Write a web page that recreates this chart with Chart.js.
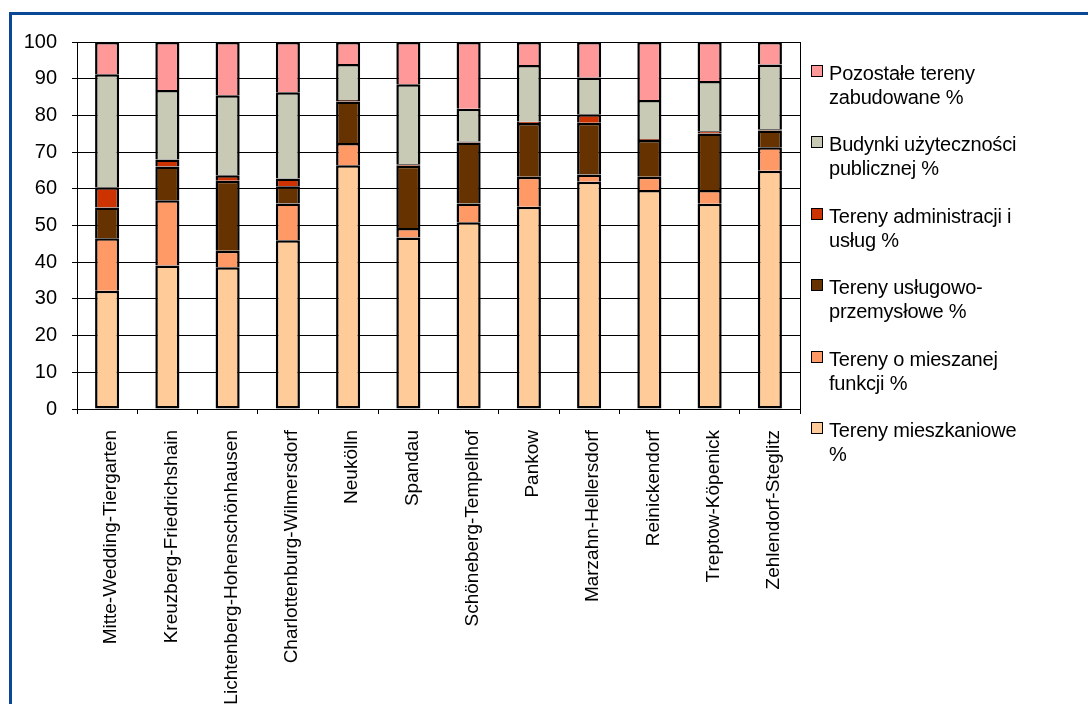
<!DOCTYPE html>
<html>
<head>
<meta charset="utf-8">
<script src="https://cdn.jsdelivr.net/npm/chart.js@4.4.1/dist/chart.umd.min.js"></script>
<style>
  html, body { margin: 0; padding: 0; background: #fff; width: 1088px; height: 704px; overflow: hidden; }
  #frame { position: absolute; left: 9px; top: 12px; width: 1200px; height: 800px;
           border-top: 3px solid #0A4795; border-left: 3px solid #0A4795; box-sizing: border-box; }
  #c { position: absolute; left: 0; top: 0; }
  #legend { position: absolute; left: 811px; top: 61px; font-family: "Liberation Sans", Arial, sans-serif;
            font-size: 20px; line-height: 24px; color: #000; }
  .item { position: relative; height: 71.4px; padding-left: 18px; white-space: pre-line; letter-spacing: -0.2px; }
  .box { position: absolute; left: 0; top: 4px; width: 10px; height: 10px; border: 1.5px solid #000; }
</style>
</head>
<body>
<div id="frame"></div>
<canvas id="c" width="1088" height="704"></canvas>
<div id="legend"></div>
<script>
const categories = [
  "Mitte-Wedding-Tiergarten", "Kreuzberg-Friedrichshain", "Lichtenberg-Hohenschönhausen",
  "Charlottenburg-Wilmersdorf", "Neukölln", "Spandau", "Schöneberg-Tempelhof", "Pankow",
  "Marzahn-Hellersdorf", "Reinickendorf", "Treptow-Köpenick", "Zehlendorf-Steglitz"
];
const seriesNames = [
  "Tereny mieszkaniowe\n%",
  "Tereny o mieszanej\nfunkcji %",
  "Tereny usługowo-\nprzemysłowe %",
  "Tereny administracji i\nusług %",
  "Budynki użyteczności\npublicznej %",
  "Pozostałe tereny\nzabudowane %"
];
const mieszkaniowe   = [32.2, 39.1, 38.6, 46.0, 66.4, 46.7, 50.9, 55.1, 61.9, 59.7, 55.9, 64.9];
const mieszane       = [14.3, 17.8,  4.5, 10.0,  6.1,  2.6,  5.1,  8.2,  2.0,  3.6,  3.8,  6.4];
const przemyslowe    = [ 8.4,  9.2, 19.1,  4.7, 11.3, 17.0, 16.6, 14.6, 14.1, 10.0, 15.4,  4.6];
const administracja  = [ 5.5,  1.9,  1.5,  2.1,  0.4,  0.4,  0.3,  0.4,  2.3,  0.3,  0.6,  0.3];
const publiczne      = [30.8, 18.9, 21.8, 23.5,  9.8, 21.8,  8.9, 15.4, 10.0, 10.6, 13.7, 17.7];
const pozostale      = [ 8.8, 13.1, 14.5, 13.7,  6.0, 11.5, 18.2,  6.3,  9.7, 15.8, 10.6,  6.1];
const yTicks = [0, 10, 20, 30, 40, 50, 60, 70, 80, 90, 100];

const seriesValues = [mieszkaniowe, mieszane, przemyslowe, administracja, publiczne, pozostale];
const colors = ["#FFCC99", "#FF9966", "#663300", "#CC3300", "#C8CAB6", "#FF9999"];

const datasets = seriesValues.map((vals, i) => ({
  label: seriesNames[i],
  data: vals,
  backgroundColor: colors[i],
  borderColor: "#000",
  borderWidth: 2.5,
  borderSkipped: i === 0 ? false : "start",
  barPercentage: 0.4,
  categoryPercentage: 1.0
}));

const font = "'Liberation Sans', Arial, sans-serif";

new Chart(document.getElementById("c"), {
  type: "bar",
  data: { labels: categories, datasets },
  options: {
    responsive: false,
    animation: false,
    devicePixelRatio: 1,
    layout: { padding: { left: 0, top: 42, right: 287, bottom: 0 } },
    plugins: { legend: { display: false }, tooltip: { enabled: false } },
    scales: {
      x: {
        stacked: true,
        afterFit: s => { s.height = 295; },
        grid: { display: true, drawOnChartArea: false, drawTicks: true, tickLength: 5, color: "#000", offset: true },
        border: { display: true, color: "#000", width: 1 },
        ticks: { autoSkip: false, minRotation: 90, maxRotation: 90, padding: 16, labelOffset: 4, color: "#000",
                 font: { family: font, size: 19 } }
      },
      y: {
        stacked: true,
        min: 0, max: 100,
        afterFit: s => { s.width = 77; },
        afterBuildTicks: s => { s.ticks = yTicks.map(v => ({ value: v })); },
        grid: { color: "#000", lineWidth: 1, tickLength: 5, drawTicks: true },
        border: { display: true, color: "#000", width: 1 },
        ticks: { padding: 15, color: "#000", font: { family: font, size: 20 } }
      },
      y2: {
        position: "right",
        min: 0, max: 100,
        afterFit: s => { s.width = 1; },
        grid: { display: false },
        border: { display: true, color: "#000", width: 1 },
        ticks: { display: false }
      }
    }
  }
});

// HTML legend, reversed order like the reference
const legend = document.getElementById("legend");
for (let i = seriesNames.length - 1; i >= 0; i--) {
  const item = document.createElement("div");
  item.className = "item";
  const box = document.createElement("span");
  box.className = "box";
  box.style.background = colors[i];
  item.appendChild(box);
  item.appendChild(document.createTextNode(seriesNames[i]));
  legend.appendChild(item);
}
</script>
</body>
</html>
